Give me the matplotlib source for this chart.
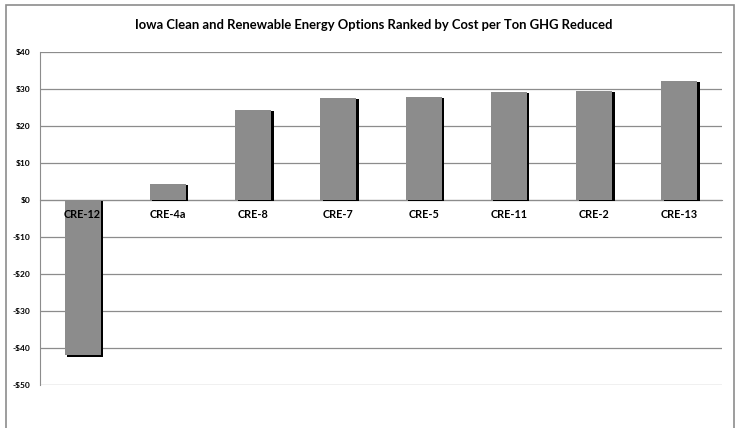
import numpy as np
import matplotlib
matplotlib.use("Agg")
import matplotlib.pyplot as plt
import matplotlib.patheffects as pe
import matplotlib.transforms as mtransforms
from matplotlib.patches import Rectangle

# cost per ton GHG reduced, ranked
options = ["CRE-12", "CRE-4a", "CRE-8", "CRE-7", "CRE-5", "CRE-11", "CRE-2", "CRE-13"]
cost = [-42.0, 4.3, 24.4, 27.6, 27.9, 29.2, 29.5, 32.2]
y_ticks = [40, 30, 20, 10, 0, -10, -20, -30, -40, -50]


def money(v):
    if v < 0:
        return "-$%d" % abs(v)
    return "$%d" % v


def main():
    plt.rcParams['font.family'] = ['Lato', 'DejaVu Sans']

    fig = plt.figure(figsize=(7.38, 4.28), dpi=100)
    W, H = 738.0, 428.0
    ax = fig.add_axes([40 / W, 1 - 385 / H, (722 - 40) / W, (385 - 52) / H])

    # outer chart frame
    fig.patches.append(Rectangle((6 / W, -0.05), (734 - 6) / W, 1.05 - 5 / H,
                                 transform=fig.transFigure, fill=False,
                                 edgecolor="#8c8c8c", linewidth=1.2))

    ax.spines['bottom'].set_position(('data', 0))
    ax.spines['bottom'].set_color("#8c8c8c")
    ax.spines['left'].set_color("#8c8c8c")
    ax.spines['top'].set_visible(False)
    ax.spines['right'].set_visible(False)

    x = np.arange(len(options))
    ax.bar(x, cost, width=0.42, color="#8c8c8c", zorder=3,
           path_effects=[pe.SimplePatchShadow(offset=(1.8, -1.0), shadow_rgbFace="black", alpha=1.0),
                         pe.Normal()])

    ax.set_xlim(-0.5, len(options) - 0.5)
    ax.set_ylim(-50, 40)
    ax.set_yticks(y_ticks)
    ax.set_yticklabels([money(v) for v in y_ticks], fontsize=6, fontweight="bold")
    ax.yaxis.grid(True, color="#8c8c8c", linewidth=0.9)
    ax.set_axisbelow(True)
    ax.tick_params(axis='y', length=0, pad=7)

    # category labels sit just under the zero line, drawn over the bars
    ax.set_xticks([])
    below = mtransforms.offset_copy(ax.transData, fig=fig, y=-15, units='dots')
    for xi, name in zip(x, options):
        ax.text(xi, 0, name, transform=below, ha="center", va="center",
                fontsize=7.8, fontweight="bold", zorder=5)

    fig.text(374 / W, 1 - 25 / H,
             "Iowa Clean and Renewable Energy Options Ranked by Cost per Ton GHG Reduced",
             ha="center", va="center", fontsize=9.4, fontweight="bold")

    fig.savefig("out.png", dpi=100)


if __name__ == "__main__":
    main()
